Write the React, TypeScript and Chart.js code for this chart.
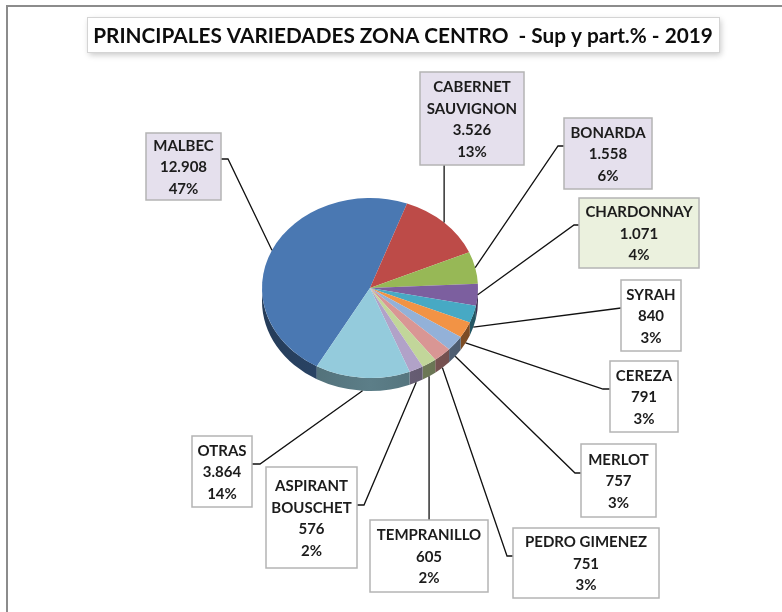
import React, { useEffect, useRef } from 'react';
import { Chart, registerables } from 'chart.js';

Chart.register(...registerables);

const TITLE = 'PRINCIPALES VARIEDADES ZONA CENTRO  - Sup y part.% - 2019';

const varieties = [
  'MALBEC', 'CABERNET SAUVIGNON', 'BONARDA', 'CHARDONNAY', 'SYRAH', 'CEREZA',
  'MERLOT', 'PEDRO GIMENEZ', 'TEMPRANILLO', 'ASPIRANT BOUSCHET', 'OTRAS',
];
const labelRows = [
  ['MALBEC'], ['CABERNET', 'SAUVIGNON'], ['BONARDA'], ['CHARDONNAY'], ['SYRAH'], ['CEREZA'],
  ['MERLOT'], ['PEDRO GIMENEZ'], ['TEMPRANILLO'], ['ASPIRANT', 'BOUSCHET'], ['OTRAS'],
];
const surfaceHa = [12908, 3526, 1558, 1071, 840, 791, 757, 751, 605, 576, 3864];

const sliceColors = [
  '#4a78b2', '#bd4b48', '#97b856', '#7c5f9f', '#47a9c4', '#f29345',
  '#93b1d8', '#d99694', '#c2d69a', '#b1a2c8', '#94cbdc',
];

const LAV = '#e5e0ed';
type Callout = {
  x: number; y: number; w: number; h: number; bg: string;
  side: 'left' | 'right' | 'top' | 'bottom'; ay?: number; elbow?: number;
};
const calloutLayout: Callout[] = [
  { x: 146, y: 133, w: 75, h: 67, bg: LAV, side: 'right', ay: 159, elbow: 7 },
  { x: 420, y: 72, w: 104, h: 93, bg: LAV, side: 'bottom' },
  { x: 564, y: 118, w: 88, h: 71, bg: LAV, side: 'left', ay: 146, elbow: 6 },
  { x: 579, y: 198, w: 120, h: 70, bg: '#ebf1de', side: 'left', ay: 225, elbow: 5 },
  { x: 621, y: 280, w: 60, h: 71, bg: '#ffffff', side: 'left', ay: 308, elbow: 0 },
  { x: 610, y: 361, w: 68, h: 71, bg: '#ffffff', side: 'left', ay: 389, elbow: 7 },
  { x: 581, y: 444, w: 75, h: 73, bg: '#ffffff', side: 'left', ay: 473, elbow: 6 },
  { x: 513, y: 528, w: 146, h: 70, bg: '#ffffff', side: 'left', ay: 556, elbow: 6 },
  { x: 370, y: 520, w: 118, h: 72, bg: '#ffffff', side: 'top' },
  { x: 266, y: 467, w: 91, h: 101, bg: '#ffffff', side: 'right', ay: 505, elbow: 7 },
  { x: 192, y: 436, w: 60, h: 71, bg: '#ffffff', side: 'right', ay: 464, elbow: 8 },
];

const SY = 0.833; // vertical squash of the tilted pie
const DEPTH = 13; // thickness of the pie side
const FONT = 'Lato, "Open Sans", sans-serif';

function fmtThousands(v: number): string {
  return String(v).replace(/\B(?=(\d{3})+(?!\d))/g, '.');
}

function darken(hex: string, f: number): string {
  const n = parseInt(hex.slice(1), 16);
  const r = Math.round(((n >> 16) & 255) * f);
  const g = Math.round(((n >> 8) & 255) * f);
  const b = Math.round((n & 255) * f);
  return `rgb(${r},${g},${b})`;
}

const pie3dPlugin = {
  id: 'pie3d',
  beforeDatasetsDraw(chart: any) {
    const ctx = chart.ctx as CanvasRenderingContext2D;
    const arcs = chart.getDatasetMeta(0).data as any[];
    if (!arcs.length) return;
    const cx = arcs[0].x, cy = arcs[0].y, r = arcs[0].outerRadius;
    const ry = r * SY;
    ctx.save();
    arcs.forEach((arc: any, i: number) => {
      const s = arc.startAngle, e = arc.endAngle;
      for (let k = -1; k <= 2; k++) {
        const lo = Math.max(s, k * 2 * Math.PI);
        const hi = Math.min(e, k * 2 * Math.PI + Math.PI);
        if (hi <= lo) continue;
        const grad = ctx.createLinearGradient(cx - r, 0, cx + r, 0);
        grad.addColorStop(0, darken(sliceColors[i], 0.5));
        grad.addColorStop(0.5, darken(sliceColors[i], 0.62));
        grad.addColorStop(1, darken(sliceColors[i], 0.5));
        ctx.beginPath();
        ctx.ellipse(cx, cy, r, ry, 0, lo, hi);
        ctx.ellipse(cx, cy + DEPTH, r, ry, 0, hi, lo, true);
        ctx.closePath();
        ctx.fillStyle = grad;
        ctx.fill();
      }
    });
    ctx.restore();
    ctx.save();
    ctx.translate(cx, cy);
    ctx.scale(1, SY);
    ctx.translate(-cx, -cy);
  },
  afterDatasetsDraw(chart: any) {
    chart.ctx.restore();
  },
};

const calloutPlugin = {
  id: 'callouts',
  afterDraw(chart: any) {
    const ctx = chart.ctx as CanvasRenderingContext2D;
    const arcs = chart.getDatasetMeta(0).data as any[];
    const total = surfaceHa.reduce((a, b) => a + b, 0);
    ctx.save();

    // outer frame
    ctx.strokeStyle = '#8c8c8c';
    ctx.lineWidth = 2;
    ctx.strokeRect(7, 6, 800, 640);

    // title box
    ctx.save();
    ctx.shadowColor = 'rgba(0,0,0,0.22)';
    ctx.shadowBlur = 6;
    ctx.shadowOffsetX = 2;
    ctx.shadowOffsetY = 3;
    ctx.fillStyle = '#ffffff';
    ctx.fillRect(87, 17, 632, 35);
    ctx.restore();
    ctx.strokeStyle = '#d4d4d4';
    ctx.lineWidth = 1;
    ctx.strokeRect(87.5, 17.5, 632, 35);
    ctx.font = `bold 20px ${FONT}`;
    const tw = ctx.measureText(TITLE).width;
    const tsize = 20 * 620 / tw;
    ctx.font = `bold ${tsize.toFixed(2)}px ${FONT}`;
    ctx.fillStyle = '#0d0d0d';
    ctx.textAlign = 'center';
    ctx.textBaseline = 'middle';
    ctx.fillText(TITLE, 403, 36);

    const cx = arcs[0].x, cy = arcs[0].y, r = arcs[0].outerRadius;
    const ry = r * SY;

    arcs.forEach((arc: any, i: number) => {
      const L = calloutLayout[i];
      const mid = (arc.startAngle + arc.endAngle) / 2;
      const px = cx + r * Math.cos(mid);
      let py = cy + ry * Math.sin(mid);
      if (Math.sin(mid) > 0.2) py += DEPTH;

      // leader line
      ctx.strokeStyle = '#111111';
      ctx.lineWidth = 1.3;
      ctx.beginPath();
      if (L.side === 'left' || L.side === 'right') {
        const sx = L.side === 'left' ? L.x : L.x + L.w;
        const ex = L.side === 'left' ? sx - (L.elbow || 0) : sx + (L.elbow || 0);
        ctx.moveTo(sx, L.ay!);
        ctx.lineTo(ex, L.ay!);
        ctx.lineTo(px, py);
      } else if (L.side === 'bottom') {
        ctx.moveTo(px, L.y + L.h);
        ctx.lineTo(px, py);
      } else {
        ctx.moveTo(px, L.y);
        ctx.lineTo(px, py);
      }
      ctx.stroke();

      // box
      ctx.fillStyle = L.bg;
      ctx.fillRect(L.x, L.y, L.w, L.h);
      ctx.strokeStyle = '#b4b4b4';
      ctx.lineWidth = 1.5;
      ctx.strokeRect(L.x, L.y, L.w, L.h);

      // text
      const pct = Math.round((surfaceHa[i] / total) * 100);
      const rows = [...labelRows[i], fmtThousands(surfaceHa[i]), `${pct}%`];
      const lh = 21.6;
      ctx.font = `bold 15px ${FONT}`;
      ctx.fillStyle = '#1c1c1c';
      ctx.textAlign = 'center';
      ctx.textBaseline = 'middle';
      const top = L.y + L.h / 2 - (lh * (rows.length - 1)) / 2 + 1;
      rows.forEach((t, j) => ctx.fillText(t, L.x + L.w / 2, top + j * lh));
    });
    ctx.restore();
  },
};

export default function App() {
  const ref = useRef<HTMLCanvasElement | null>(null);
  useEffect(() => {
    document.body.style.margin = '0';
    const canvas = ref.current!;
    const chart = new Chart(canvas, {
      type: 'pie',
      data: {
        labels: varieties,
        datasets: [{
          data: surfaceHa,
          backgroundColor: sliceColors,
          borderWidth: 0,
        }],
      },
      options: {
        responsive: false,
        animation: false,
        rotation: 209.5,
        layout: { padding: { left: 262, right: 304, top: 180, bottom: 216 } },
        plugins: {
          legend: { display: false },
          tooltip: { enabled: false },
          title: { display: false },
        },
      },
      plugins: [pie3dPlugin, calloutPlugin],
    } as any);
    return () => chart.destroy();
  }, []);
  return (
    <div style={{ position: 'fixed', left: 0, top: 0, width: 782, height: 612, background: '#ffffff' }}>
      <canvas ref={ref} width={782} height={612} style={{ display: 'block' }} />
    </div>
  );
}
